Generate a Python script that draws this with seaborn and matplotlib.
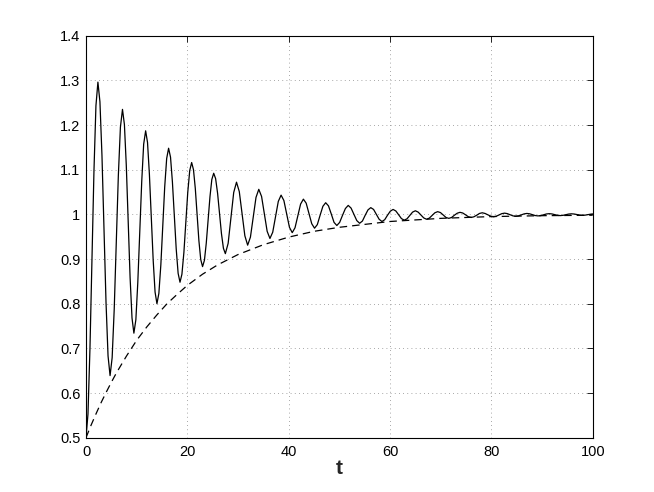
import matplotlib
matplotlib.use("Agg")
import matplotlib.pyplot as plt
import seaborn as sns

# ==========================================
# 1. Data
# ==========================================
# solid line: damped oscillation (t, y)
t_solid = [
    0.0, 0.39, 0.78, 1.18, 1.57, 1.96, 2.35,
    2.75, 3.15, 3.55, 3.95, 4.35, 4.75,
    5.16, 5.57, 5.98, 6.38, 6.79, 7.2,
    7.58, 7.95, 8.33, 8.7, 9.08, 9.45,
    9.84, 10.22, 10.61, 11.0, 11.38, 11.77,
    12.14, 12.51, 12.89, 13.26, 13.63, 14.0,
    14.38, 14.77, 15.15, 15.53, 15.92, 16.3,
    16.68, 17.05, 17.43, 17.8, 18.18, 18.55,
    18.93, 19.32, 19.7, 20.08, 20.47, 20.85,
    21.21, 21.57, 21.93, 22.28, 22.64, 23.0,
    23.37, 23.73, 24.1, 24.47, 24.83, 25.2,
    25.58, 25.97, 26.35, 26.73, 27.12, 27.5,
    28.05, 28.6, 29.15, 29.7,
    30.25, 30.8, 31.35, 31.9,
    32.45, 33.0, 33.55, 34.1,
    34.65, 35.2, 35.75, 36.3,
    36.85, 37.4, 37.95, 38.5,
    39.05, 39.6, 40.15, 40.7,
    41.25, 41.8, 42.35, 42.9,
    43.45, 44.0, 44.55, 45.1,
    45.65, 46.2, 46.75, 47.3,
    47.85, 48.4, 48.95, 49.5,
    50.06, 50.63, 51.19, 51.75,
    52.31, 52.88, 53.44, 54.0,
    54.55, 55.1, 55.65, 56.2,
    56.75, 57.3, 57.85, 58.4,
    58.95, 59.5, 60.05, 60.6,
    61.15, 61.7, 62.25, 62.8,
    63.35, 63.9, 64.45, 65.0,
    65.55, 66.1, 66.65, 67.2,
    67.75, 68.3, 68.85, 69.4,
    69.95, 70.5, 71.05, 71.6,
    72.15, 72.7, 73.25, 73.8,
    74.35, 74.9, 75.45, 76.0,
    76.55, 77.1, 77.65, 78.2,
    78.75, 79.3, 79.85, 80.4,
    80.95, 81.5, 82.05, 82.6,
    83.15, 83.7, 84.25, 84.8,
    85.35, 85.9, 86.45, 87.0,
    87.55, 88.1, 88.65, 89.2,
    89.75, 90.3, 90.85, 91.4,
    91.95, 92.5, 93.05, 93.6,
    94.15, 94.7, 95.25, 95.8,
    96.35, 96.9, 97.45, 98.0,
    98.55, 99.1, 99.65, 100.0,
]
y_solid = [
    0.5, 0.553, 0.699, 0.898, 1.097, 1.243, 1.296,
    1.252, 1.132, 0.968, 0.803, 0.683, 0.639,
    0.679, 0.788, 0.937, 1.086, 1.195, 1.235,
    1.201, 1.110, 0.985, 0.859, 0.768, 0.734,
    0.764, 0.847, 0.961, 1.074, 1.157, 1.187,
    1.161, 1.090, 0.994, 0.897, 0.826, 0.800,
    0.823, 0.887, 0.974, 1.061, 1.125, 1.148,
    1.128, 1.073, 0.998, 0.923, 0.868, 0.848,
    0.866, 0.915, 0.982, 1.049, 1.098, 1.116,
    1.100, 1.058, 1.000, 0.941, 0.899, 0.883,
    0.897, 0.935, 0.988, 1.040, 1.078, 1.092,
    1.080, 1.047, 1.002, 0.957, 0.924, 0.912,
    0.935, 0.992, 1.049, 1.072,
    1.051, 1.002, 0.952, 0.931,
    0.949, 0.994, 1.038, 1.056,
    1.040, 1.001, 0.962, 0.946,
    0.960, 0.995, 1.029, 1.043,
    1.031, 1.001, 0.971, 0.959,
    0.970, 0.997, 1.023, 1.034,
    1.025, 1.002, 0.979, 0.969,
    0.977, 0.998, 1.018, 1.026,
    1.019, 1.001, 0.982, 0.975,
    0.982, 0.998, 1.013, 1.020,
    1.014, 1.000, 0.986, 0.980,
    0.985, 0.998, 1.010, 1.015,
    1.011, 1.000, 0.989, 0.984,
    0.988, 0.998, 1.007, 1.011,
    1.0075, 0.999, 0.9905, 0.987,
    0.990, 0.9975, 1.005, 1.008,
    1.005, 0.9985, 0.992, 0.989,
    0.9915, 0.9975, 1.0035, 1.006,
    1.004, 0.9985, 0.993, 0.991,
    0.993, 0.998, 1.0025, 1.0045,
    1.003, 0.999, 0.9947, 0.993,
    0.9945, 0.998, 1.002, 1.0035,
    1.002, 0.999, 0.996, 0.9945,
    0.9957, 0.9986, 1.0015, 1.0027,
    1.0016, 0.9991, 0.9966, 0.9955,
    0.9965, 0.9988, 1.001, 1.002,
    1.0012, 0.9993, 0.9973, 0.9965,
    0.9972, 0.999, 1.0008, 1.0015,
    1.0009, 0.9994, 0.9978, 0.9972,
    0.9978, 0.9992, 1.0006, 1.0012,
    1.0007, 0.9995, 0.9983, 0.9978,
    0.9983, 0.9994, 1.0005, 1.0009,
]

# dashed line: smooth rise from 0.5 towards 1
t_dash = [0, 1, 2, 3, 4, 5, 6, 8, 10, 12, 14, 16, 18, 20, 23, 26, 30,
          35, 40, 45, 50, 60, 70, 80, 90, 100]
y_dash = [0.5, 0.528, 0.554, 0.579, 0.602, 0.624, 0.645, 0.683, 0.718,
          0.748, 0.775, 0.800, 0.821, 0.841, 0.866, 0.887, 0.910,
          0.932, 0.949, 0.962, 0.971, 0.984, 0.991, 0.995, 0.997, 0.998]

x_ticks = [0, 20, 40, 60, 80, 100]
y_ticks = [0.5, 0.6, 0.7, 0.8, 0.9, 1.0, 1.1, 1.2, 1.3, 1.4]
y_tick_labels = ['0.5', '0.6', '0.7', '0.8', '0.9', '1', '1.1', '1.2', '1.3', '1.4']

# ==========================================
# 2. Style
# ==========================================
sns.set_style("white")
plt.rcParams['font.family'] = ['Liberation Sans', 'DejaVu Sans']

fig = plt.figure(figsize=(6.54, 4.92), dpi=100)
ax = fig.add_axes([0.1315, 0.1104, 0.7748, 0.8171])

sns.lineplot(x=t_solid, y=y_solid, color='black', linewidth=0.9, ax=ax)
sns.lineplot(x=t_dash, y=y_dash, color='black', linewidth=0.9, ax=ax)
ax.lines[-1].set_dashes([6, 4])

ax.set_xlim(0, 100)
ax.set_ylim(0.5, 1.4)
ax.set_xticks(x_ticks)
ax.set_xticklabels([str(v) for v in x_ticks])
ax.set_yticks(y_ticks)
ax.set_yticklabels(y_tick_labels)

# matlab-ish dotted grid + inward ticks on all sides
ax.grid(True, color='#8a8a8a', linestyle=(0, (1, 4)), linewidth=0.6)
ax.tick_params(direction='in', length=4, width=0.6, colors='black',
               labelsize=10.5, top=True, right=True)
ax.tick_params(axis='y', pad=4)
ax.tick_params(axis='x', pad=5)
for s in ax.spines.values():
    s.set_color('black')
    s.set_linewidth(0.8)

ax.set_xlabel('t', fontsize=15, fontweight='bold', labelpad=0)
ax.set_ylabel('')

fig.savefig("out.png", dpi=100, facecolor='white')
